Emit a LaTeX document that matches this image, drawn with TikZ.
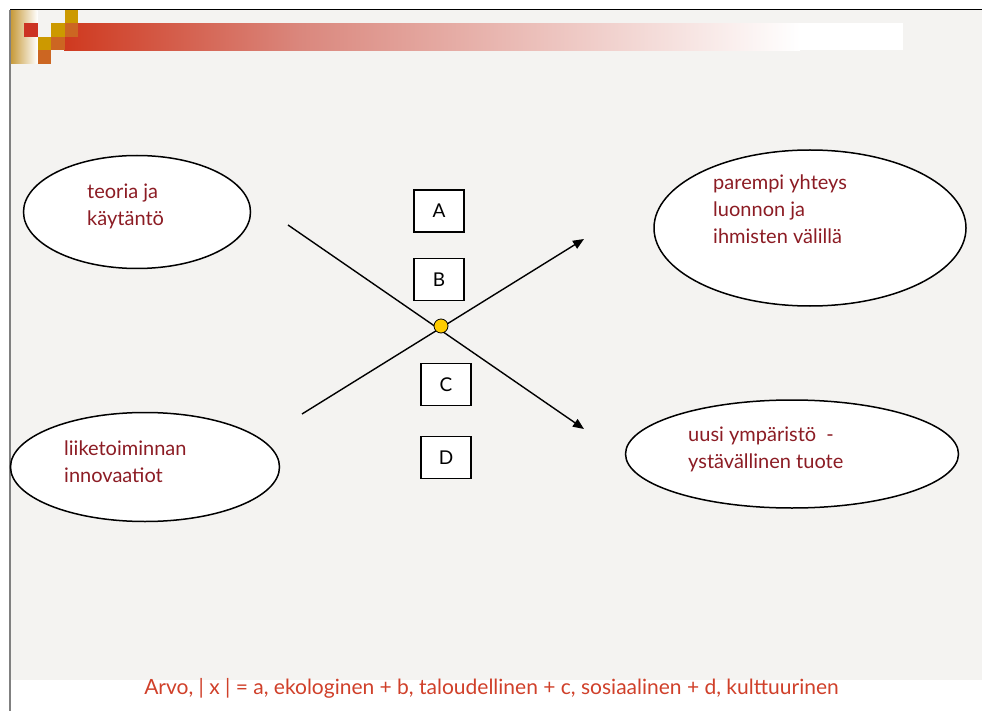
\documentclass[tikz,border=0pt]{standalone}
\usepackage{fontspec}
\setmainfont{Lato}
\usetikzlibrary{arrows.meta,positioning,shapes.geometric}

\definecolor{slidebg}{RGB}{244,243,241}
\definecolor{labelred}{RGB}{140,28,36}
\definecolor{formulared}{RGB}{208,64,42}
\definecolor{bannerred}{RGB}{207,57,31}
\definecolor{bannermid}{RGB}{218,135,125}
\definecolor{stripgold}{RGB}{200,155,60}
\definecolor{pixgold}{RGB}{204,153,0}
\definecolor{pixorange}{RGB}{204,102,34}
\definecolor{pixred}{RGB}{204,51,34}
\definecolor{hubyellow}{RGB}{255,204,0}

\begin{document}
\begin{tikzpicture}[
  x=1pt, y=-1pt,
  bubble/.style={draw, ellipse, fill=white, line width=1.5pt, inner sep=0pt},
  bubbletext/.style={anchor=west, inner sep=0pt, align=left, text=labelred,
    font=\fontsize{20}{27}\selectfont},
  letterbox/.style={draw, fill=white, line width=1.3pt, minimum width=50pt,
    minimum height=42pt, inner sep=0pt, font=\fontsize{19}{22}\selectfont},
  flow/.style={-{Triangle[length=11pt, width=9pt]}, line width=1.4pt},
  hubdot/.style={circle, draw, fill=hubyellow, minimum size=14pt,
    inner sep=0pt, line width=0.8pt}
]
  % slide frame
  \fill[white] (0,0) rectangle (982,711);
  \useasboundingbox (0,0) rectangle (982,711);
  \fill[slidebg] (11,10) rectangle (982,680);
  \draw[line width=1pt] (10,10) -- (982,10);
  \draw[gray, line width=1.5pt] (10,10) -- (10,711);

  % title banner
  \shade[left color=stripgold, right color=white] (11,10.5) rectangle (37.5,64);
  \shade[left color=bannerred, right color=bannermid] (64,23.5) rectangle (300,50.5);
  \shade[left color=bannermid, right color=white] (299.5,23.5) rectangle (800,50.5);
  \fill[white] (800,23.5) rectangle (903,50.5);
  \foreach \px/\py/\pc in {64.5/10.5/pixgold, 24/23.5/pixred, 51/23.5/pixgold,
      64.5/23.5/pixorange, 37.5/37/pixgold, 51/37/pixorange, 37.5/50.5/pixorange}
    \fill[\pc] (\px,\py) rectangle ++(13.5,13.5);

  % goals and sources
  \node[bubble, minimum width=227pt, minimum height=113pt] (theory) at (137,212) {};
  \node[bubbletext] (theorytext) at (87,206) {teoria ja\\käytäntö};
  \node[bubble, minimum width=269pt, minimum height=109pt] (business) at (145,467) {};
  \node[bubbletext] (businesstext) at (64,462) {liiketoiminnan\\innovaatiot};
  \node[bubble, minimum width=312pt, minimum height=156pt] (nature) at (810,228) {};
  \node[bubbletext] (naturetext) at (713,209) {parempi yhteys\\luonnon ja\\ihmisten välillä};
  \node[bubble, minimum width=333pt, minimum height=108pt] (product) at (792,454) {};
  \node[bubbletext] (producttext) at (688,449) {uusi ympäristö\ \ -\\ystävällinen tuote};

  % value dimensions
  \node[letterbox] (boxa) at (439,211) {A};
  \node[letterbox, below=25pt of boxa] (boxb) {B};
  \node[letterbox] (boxc) at (446,384.5) {C};
  \node[letterbox, below=30pt of boxc] (boxd) {D};

  \coordinate (fromtheory) at (288,225);
  \coordinate (toproduct) at (584,429);
  \coordinate (frombusiness) at (302,414);
  \coordinate (tonature) at (584,239);
  \draw[flow] (fromtheory) -- (toproduct);
  \draw[flow] (frombusiness) -- (tonature);
  \node[hubdot] (hub) at (441,326) {};

  \node[text=formulared, font=\fontsize{21}{25}\selectfont] (value) at (491.5,688)
    {Arvo, | x | = a, ekologinen + b, taloudellinen + c, sosiaalinen + d, kulttuurinen};
\end{tikzpicture}
\end{document}
